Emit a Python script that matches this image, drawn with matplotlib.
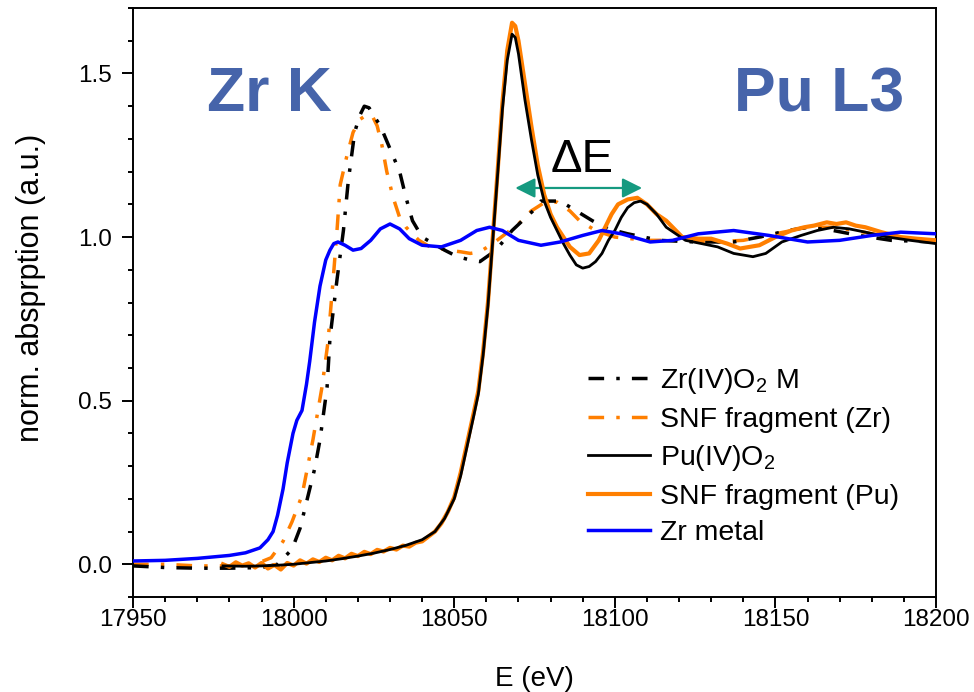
import matplotlib
matplotlib.use('Agg')
import matplotlib.pyplot as plt
from matplotlib.ticker import MultipleLocator

plt.rcParams['font.family'] = ['Liberation Sans', 'DejaVu Sans']
plt.rcParams['mathtext.fontset'] = 'custom'
plt.rcParams['mathtext.rm'] = 'Liberation Sans'
plt.rcParams['mathtext.it'] = 'Liberation Sans:italic'
plt.rcParams['mathtext.bf'] = 'Liberation Sans:bold'

# Zr(IV)O2 M reference (Zr K edge)
zro2_e = [17950, 17960, 17970, 17980, 17990, 17995, 17999.5, 18002, 18004.5, 18006.5, 18008.2,
          18010.4, 18011.3, 18013.5, 18015.5, 18017, 18019, 18020.5, 18022, 18023.5, 18025,
          18027, 18030, 18033, 18035, 18037, 18040, 18043.5, 18047, 18051, 18055, 18058,
          18063, 18068, 18074.5, 18077, 18083, 18088, 18093, 18098, 18104, 18114, 18125,
          18137, 18145, 18154, 18160, 18168, 18176, 18186, 18200]
zro2_mu = [-0.005, -0.01, -0.012, -0.012, -0.01, 0.0, 0.046, 0.11, 0.21, 0.29, 0.38,
           0.54, 0.69, 0.87, 1.02, 1.17, 1.32, 1.37, 1.40, 1.395, 1.37,
           1.34, 1.27, 1.20, 1.12, 1.05, 1.0, 0.98, 0.96, 0.94, 0.93, 0.925,
           0.96, 1.02, 1.08, 1.11, 1.11, 1.08, 1.05, 1.025, 1.01, 0.99, 0.985,
           0.985, 1.0, 1.02, 1.03, 1.02, 1.005, 0.99, 0.985]

# SNF fragment, Zr K edge
snf_zr_e = [17950, 17960, 17970, 17980, 17988, 17993, 17996.7, 17999.5, 18002.6, 18006, 18008.8,
            18010.7, 18012.3, 18013.5, 18014.5, 18016.5, 18018.5, 18020.7, 18023, 18024.5,
            18026, 18027.5, 18029, 18031, 18033, 18035, 18039, 18042.5, 18048, 18052, 18055,
            18058, 18062, 18066, 18070, 18074, 18078, 18082, 18086, 18089, 18094, 18100,
            18110, 18120, 18130, 18140, 18150, 18160, 18168, 18175, 18185, 18200]
snf_zr_mu = [0.0, 0.0, -0.005, -0.005, 0.0, 0.02, 0.07, 0.13, 0.21, 0.38, 0.54,
             0.68, 0.87, 1.02, 1.16, 1.245, 1.32, 1.36, 1.375, 1.37,
             1.34, 1.28, 1.20, 1.12, 1.06, 1.03, 0.99, 0.97, 0.96, 0.955, 0.95,
             0.955, 0.98, 1.01, 1.04, 1.08, 1.105, 1.107, 1.08, 1.05, 1.02, 1.0,
             0.99, 0.99, 0.985, 0.99, 1.01, 1.03, 1.03, 1.02, 1.0, 0.99]

# Pu(IV)O2 reference (Pu L3 edge)
puo2_e = [17978, 17985, 17990, 17995, 18000, 18005, 18010, 18015, 18020, 18025, 18030,
          18035, 18040, 18044, 18047, 18050, 18052, 18054, 18056, 18057.5, 18059, 18060.5,
          18062, 18063.5, 18065, 18066.5, 18068, 18069, 18070, 18072, 18074, 18076, 18078,
          18080, 18082, 18084, 18086, 18088, 18090, 18092, 18094, 18096, 18098, 18100,
          18102, 18104, 18106, 18108, 18110, 18113, 18116, 18122, 18127, 18132, 18137,
          18143, 18147, 18152, 18158, 18163, 18168, 18173, 18178, 18185, 18192, 18200]
puo2_mu = [-0.005, -0.006, -0.005, -0.003, 0.0, 0.005, 0.01, 0.017, 0.025, 0.034, 0.045,
           0.058, 0.075, 0.1, 0.14, 0.2, 0.27, 0.36, 0.45, 0.52, 0.64, 0.79,
           0.99, 1.19, 1.39, 1.54, 1.62, 1.61, 1.56, 1.42, 1.30, 1.19, 1.11,
           1.06, 1.02, 0.98, 0.945, 0.915, 0.905, 0.91, 0.925, 0.95, 0.99, 1.02,
           1.06, 1.09, 1.105, 1.11, 1.1, 1.07, 1.03, 0.99, 0.98, 0.97, 0.95,
           0.94, 0.95, 0.985, 1.005, 1.02, 1.03, 1.025, 1.015, 1.0, 0.99, 0.98]

# SNF fragment, Pu L3 edge (noisy pre-edge)
snf_pu_e = [17978, 17980, 17982, 17984, 17986, 17988, 17990, 17992, 17994, 17996, 17998,
            18000, 18002, 18004, 18006, 18008, 18010, 18012, 18014, 18016, 18018, 18020,
            18022, 18024, 18026, 18028, 18030, 18032, 18034, 18036, 18038, 18040, 18042,
            18044, 18046, 18048, 18050, 18052, 18054, 18056, 18057.5, 18059, 18060.5,
            18062, 18063.5, 18065, 18066.5, 18068, 18069, 18070, 18072, 18074, 18076,
            18078, 18080, 18082, 18084, 18086, 18089, 18092, 18095, 18097, 18099, 18101,
            18104, 18107, 18110, 18113, 18116, 18121, 18126, 18130, 18135, 18139, 18145,
            18150, 18155, 18159, 18162, 18166, 18169, 18172, 18175, 18178, 18183, 18189,
            18194, 18200]
snf_pu_mu = [0.0, -0.008, 0.006, -0.004, 0.003, -0.01, 0.004, -0.013, -0.002, -0.016, 0.004,
             -0.004, 0.012, 0.002, 0.015, 0.007, 0.02, 0.012, 0.026, 0.018, 0.032, 0.025,
             0.038, 0.031, 0.044, 0.039, 0.05, 0.045, 0.057, 0.054, 0.066, 0.07, 0.085,
             0.1, 0.125, 0.16, 0.205, 0.28, 0.37, 0.46, 0.53, 0.65, 0.8,
             1.0, 1.2, 1.41, 1.57, 1.655, 1.645, 1.6, 1.47, 1.34, 1.22,
             1.13, 1.07, 1.03, 1.0, 0.97, 0.945, 0.95, 0.99, 1.03, 1.07, 1.1,
             1.115, 1.12, 1.1, 1.07, 1.05, 1.0, 0.995, 0.995, 0.98, 0.965, 0.975,
             1.0, 1.02, 1.03, 1.035, 1.045, 1.04, 1.045, 1.035, 1.03, 1.015, 1.0,
             0.995, 0.99]

# Zr metal reference
zr_e = [17950, 17960, 17970, 17980, 17985, 17989.5, 17992, 17993.6, 17995, 17996.7, 17998,
        17999.8, 18001, 18002.6, 18004, 18005, 18006.5, 18008.2, 18010, 18011.3, 18012.5,
        18013.8, 18016, 18018.5, 18021, 18024, 18027, 18030, 18033, 18036, 18040, 18046,
        18052, 18057, 18061, 18065, 18070, 18077, 18083, 18090, 18096, 18102, 18111,
        18118, 18126, 18137, 18148, 18160, 18170, 18180, 18189, 18200]
zr_mu = [0.01, 0.012, 0.018, 0.027, 0.035, 0.05, 0.075, 0.10, 0.15, 0.23, 0.31,
         0.40, 0.44, 0.47, 0.55, 0.62, 0.74, 0.85, 0.93, 0.96, 0.98,
         0.985, 0.975, 0.96, 0.965, 0.99, 1.025, 1.04, 1.025, 0.995, 0.975, 0.97,
         0.99, 1.02, 1.03, 1.02, 0.99, 0.975, 0.985, 1.005, 1.02, 1.01, 0.985,
         0.99, 1.01, 1.02, 1.005, 0.985, 0.99, 1.005, 1.015, 1.01]

orange = '#FF7F00'
dashdot = (0, (4.5, 3.5, 1, 3.5))

fig = plt.figure(figsize=(9.74, 6.92), dpi=100)
ax = fig.add_axes([0.1366, 0.1373, 0.9610 - 0.1366, 0.9884 - 0.1373])

ax.plot(zro2_e, zro2_mu, color='black', lw=2.5, linestyle=dashdot, label='Zr(IV)O$_2$ M', zorder=3)
ax.plot(snf_zr_e, snf_zr_mu, color=orange, lw=2.5, linestyle=dashdot, label='SNF fragment (Zr)', zorder=2)
ax.plot(puo2_e, puo2_mu, color='black', lw=2.0, label='Pu(IV)O$_2$', zorder=5)
ax.plot(snf_pu_e, snf_pu_mu, color=orange, lw=3.0, label='SNF fragment (Pu)', zorder=4)
ax.plot(zr_e, zr_mu, color='#0000FF', lw=2.5, label='Zr metal', zorder=6)

ax.set_xlim(17950, 18200)
ax.set_ylim(-0.1, 1.7)
ax.xaxis.set_major_locator(MultipleLocator(50))
ax.xaxis.set_minor_locator(MultipleLocator(10))
ax.yaxis.set_major_locator(MultipleLocator(0.5))
ax.yaxis.set_minor_locator(MultipleLocator(0.1))
ax.tick_params(which='both', direction='out', width=1.4, top=False, right=False)
ax.tick_params(which='major', length=8)
ax.tick_params(which='minor', length=3.8)
ax.tick_params(axis='x', which='major', labelsize=17.5, pad=1)
ax.tick_params(axis='y', which='major', labelsize=17.5, pad=7)
for s in ax.spines.values():
    s.set_linewidth(1.4)

ax.set_xlabel('E (eV)', fontsize=20, labelpad=25)
ax.set_ylabel('norm. absprption (a.u.)', fontsize=22)
ax.yaxis.set_label_coords(-0.108, 0.525)

# edge labels
txt_blue = '#4664AA'
ax.text(17973, 1.385, 'Zr K', color=txt_blue, fontsize=45, fontweight='bold')
ax.text(18190, 1.385, 'Pu L3', color=txt_blue, fontsize=45, fontweight='bold', ha='right')

# energy shift arrow
ax.annotate('', xy=(18108.5, 1.15), xytext=(18069, 1.15),
            arrowprops=dict(arrowstyle='<|-|>,head_length=0.6,head_width=0.3',
                            color='#159A80', lw=1.6, mutation_scale=20,
                            shrinkA=0, shrinkB=0))
ax.text(18089.8, 1.20, 'ΔE', fontsize=34, ha='center', va='baseline')

ax.legend(loc='upper left', bbox_to_anchor=(0.566, 0.392), frameon=False, fontsize=20.5,
          handlelength=2.2, handletextpad=0.36, labelspacing=0.37, borderpad=0,
          borderaxespad=0)

fig.savefig('out.png', dpi=100)
